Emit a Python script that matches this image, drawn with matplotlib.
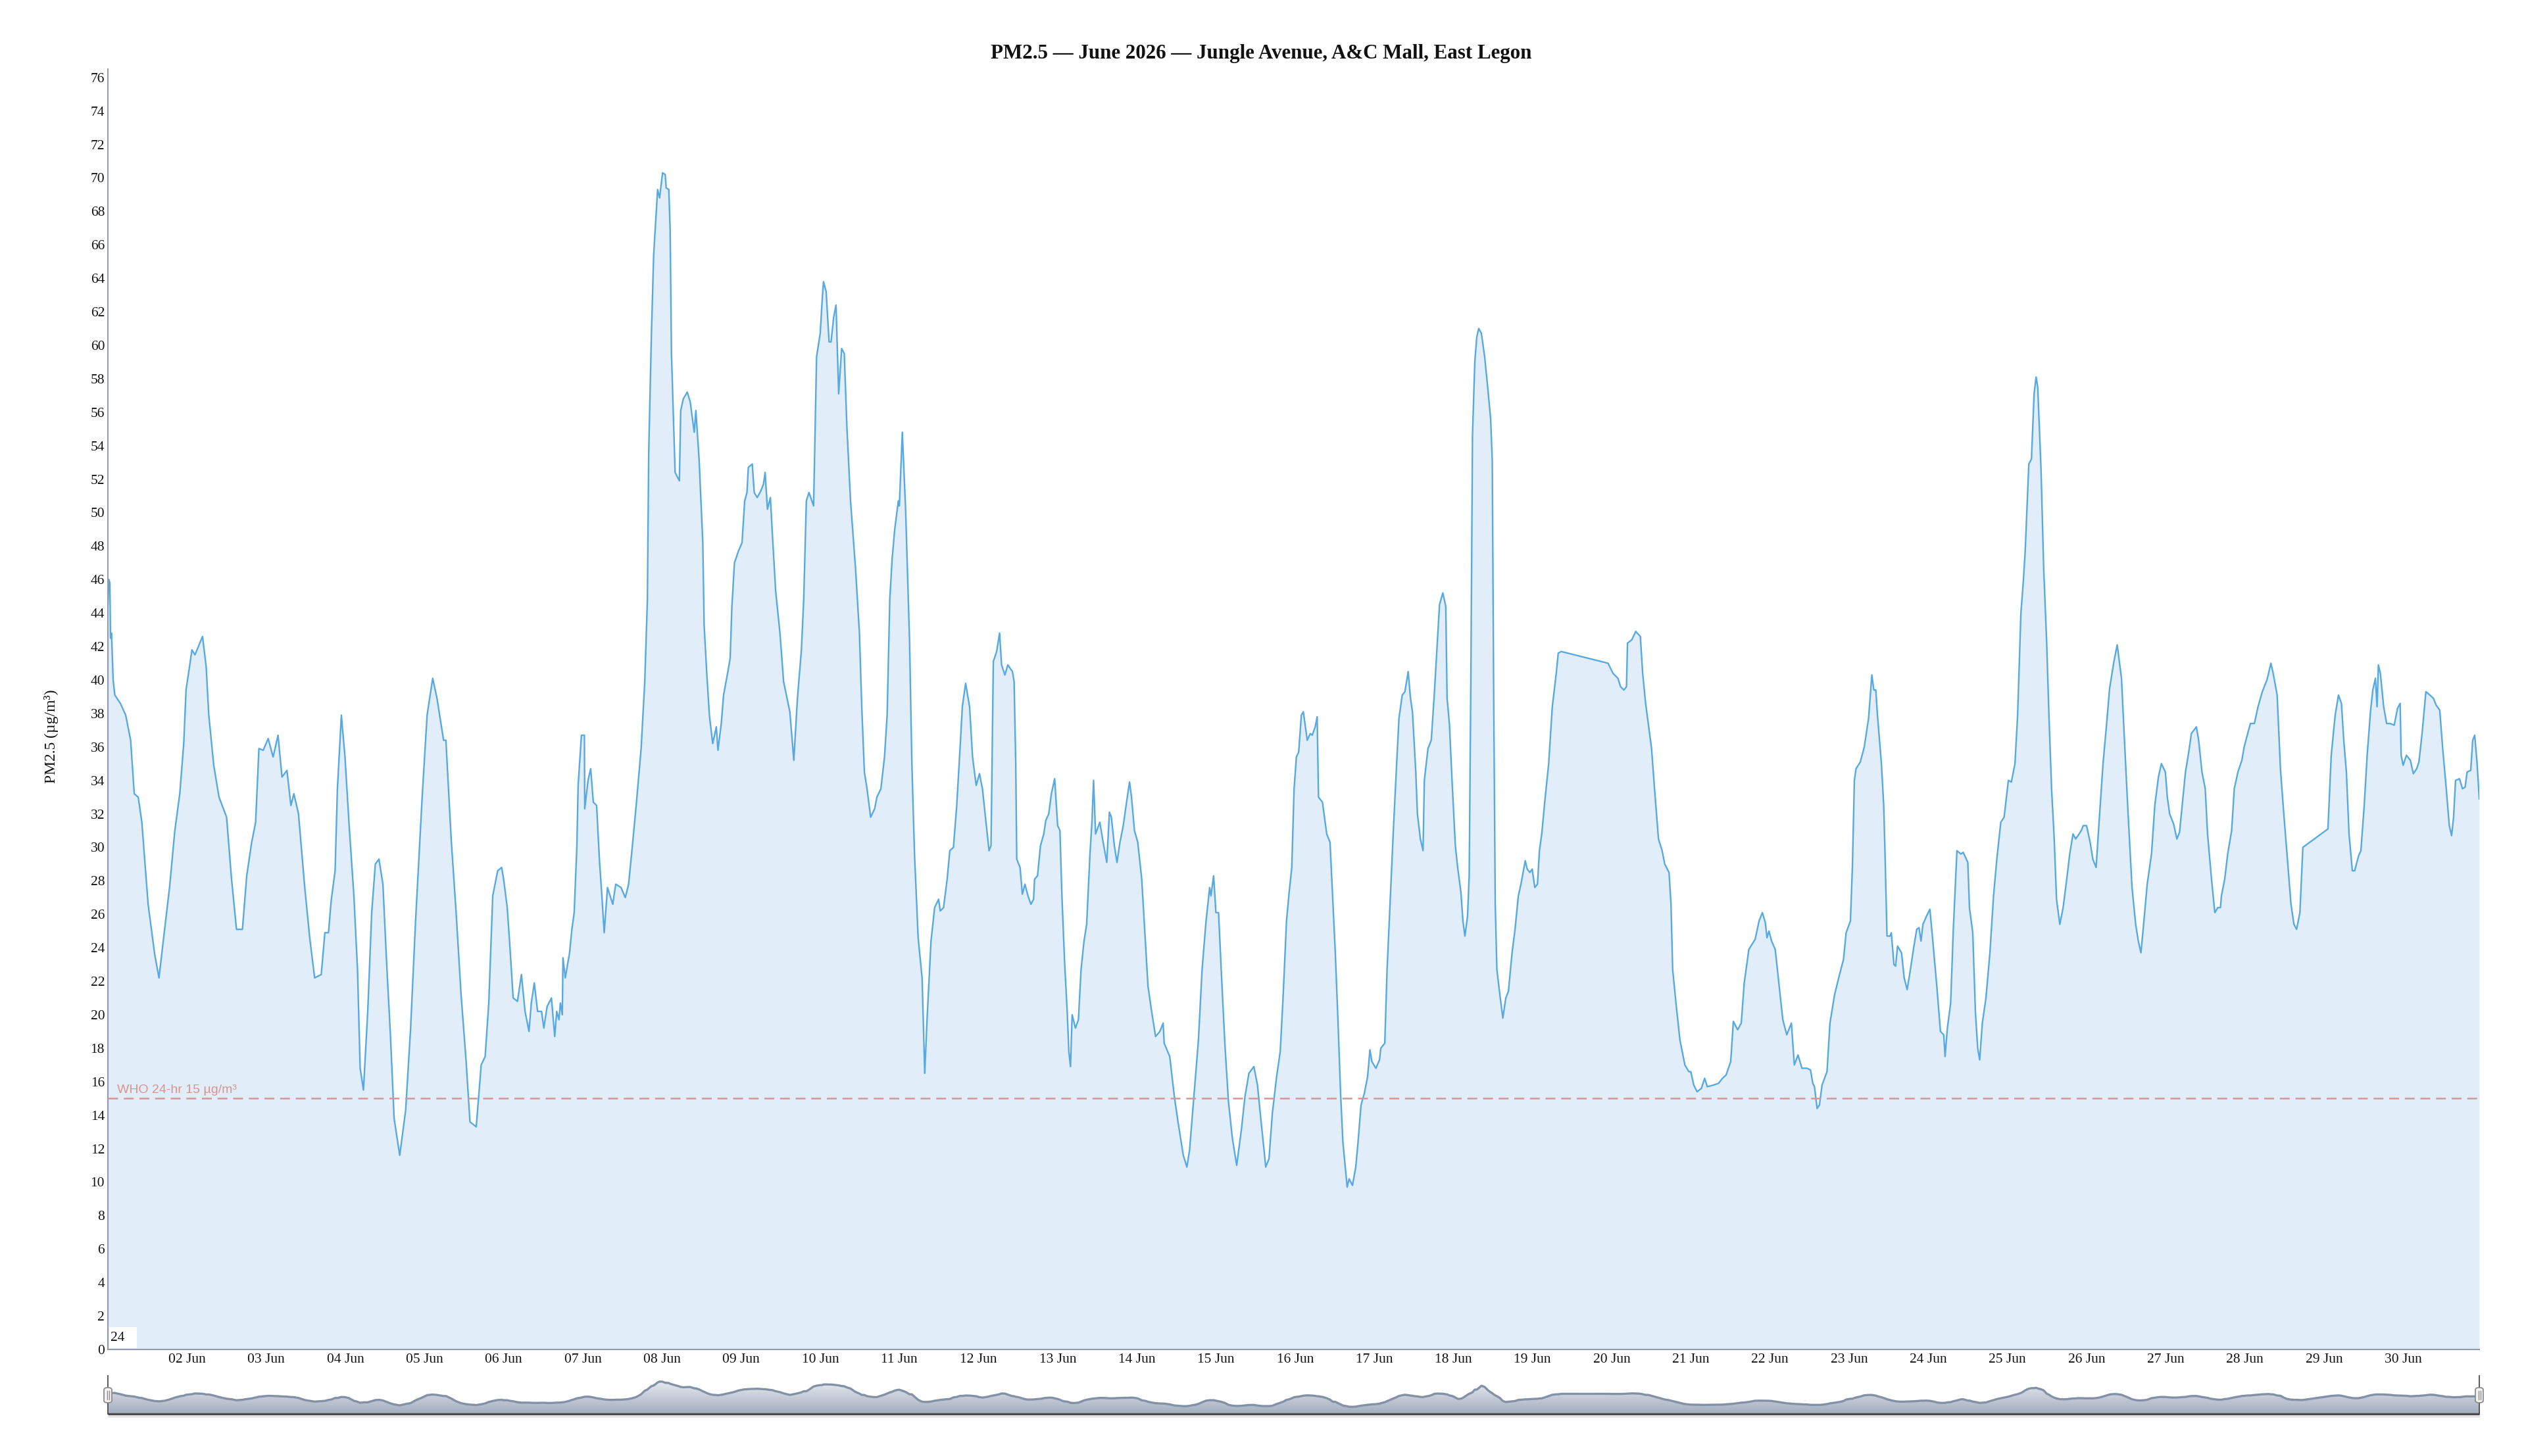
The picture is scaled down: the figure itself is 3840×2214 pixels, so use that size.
import matplotlib
matplotlib.use('Agg')
import matplotlib.pyplot as plt
import matplotlib.dates as mdates
from matplotlib.patches import Rectangle, FancyBboxPatch
from matplotlib.lines import Line2D
from matplotlib.colors import LinearSegmentedColormap
import numpy as np
import pandas as pd

# ── Data: hours since 01 Jun 2026 00:00, PM2.5 in µg/m³ ──
HOURS = [
    0.0, 0.3, 0.6, 0.8, 1.1, 1.6, 2.1, 3.8, 5.4, 6.9, 8.0, 9.2, 10.3, 12.2, 14.2,
    15.5, 17.2, 18.7, 20.3, 21.8, 23.0, 23.7, 25.5, 26.4, 28.7, 29.8, 30.6, 32.1,
    33.7, 36.0, 37.5, 39.0, 40.8, 42.1, 43.6, 44.8, 45.8, 47.1, 48.6, 50.1, 51.6,
    52.8, 54.3, 55.5, 56.4, 57.8, 59.7, 61.2, 62.7, 64.7, 65.8, 66.9, 67.7, 68.9,
    69.6, 70.8, 71.9, 73.1, 74.6, 75.7, 76.5, 77.5, 78.8, 80.0, 81.1, 82.2, 83.4,
    84.5, 85.7, 86.8, 88.5, 90.3, 91.8, 93.3, 95.3, 96.8, 98.5, 99.8, 101.8, 102.5,
    104.1, 105.6, 107.1, 108.6, 109.8, 111.7, 113.2, 114.4, 115.5, 116.7, 118.2, 119.4,
    120.0, 121.1, 121.9, 122.9, 124.2, 125.4, 126.5, 127.7, 128.4, 129.3, 130.3, 131.5,
    132.2, 133.2, 134.5, 135.5, 136.1, 136.8, 137.2, 137.8, 138.0, 138.7, 140.0, 140.7,
    141.4, 142.2, 142.6, 143.6, 144.5, 144.6, 145.6, 146.4, 147.2, 148.2, 149.1, 149.8,
    150.5, 151.5, 153.1, 154.0, 155.6, 156.9, 157.9, 159.0, 160.2, 161.7, 162.8, 163.6,
    164.0, 164.8, 165.5, 166.7, 167.3, 168.2, 169.0, 169.3, 170.1, 170.5, 170.9, 171.5,
    172.0, 173.3, 173.7, 174.5, 175.7, 176.6, 177.8, 178.3, 179.3, 180.4, 180.8, 181.6,
    182.4, 183.4, 184.5, 185.0, 186.0, 186.7, 188.1, 188.7, 189.2, 190.0, 191.2, 192.3,
    193.1, 193.8, 194.2, 195.4, 196.0, 196.9, 198.0, 198.8, 199.3, 200.0, 200.9, 201.5,
    202.5, 203.8, 204.9, 206.8, 208.0, 209.1, 210.3, 211.0, 211.8, 212.6, 214.0, 214.9,
    216.0, 216.6, 217.0, 217.8, 218.7, 219.3, 220.1, 220.8, 221.6, 222.5, 223.3, 224.1,
    225.2, 226.7, 227.9, 228.6, 229.4, 230.2, 231.3, 232.5, 233.2, 234.4, 235.5, 236.3,
    237.1, 237.8, 238.6, 239.7,
    240.0, 240.9, 241.9, 243.1, 243.8, 244.6, 245.7, 246.9, 247.7, 248.4, 249.6, 250.7,
    251.9, 252.4, 253.4, 254.5, 255.3, 256.4, 257.4, 258.4, 259.1, 260.1, 261.3, 262.2,
    263.3, 264.3, 265.2, 266.4, 267.2, 267.8, 268.5, 269.5, 270.4, 271.0, 272.0, 272.9,
    274.3, 274.8, 275.3, 275.6, 276.6, 277.3, 278.1, 279.0, 279.9, 280.7, 281.0, 281.9,
    282.8, 283.8, 284.4, 285.3, 286.1, 287.1, 288.0, 288.7, 289.3, 290.1, 290.9, 291.4,
    291.9, 292.4, 293.4, 294.3, 295.1, 296.0, 296.8, 297.8, 298.4, 298.9, 299.5, 300.8,
    301.8, 302.9, 303.7, 304.3, 305.2, 306.0, 306.9, 307.9, 308.9, 309.8, 310.4, 311.3,
    312.3, 313.5, 314.4, 315.4, 316.5, 317.7, 319.0, 320.0, 320.3, 322.0, 323.4, 324.5,
    326.1, 327.2, 328.0, 328.9, 329.5, 330.7, 331.8, 333.0, 334.1, 334.5, 335.3, 336.0,
    336.8, 337.6, 338.7, 339.8, 341.0, 342.3, 343.7, 344.8, 346.0, 347.5, 348.6, 349.6,
    350.6, 351.1, 352.1, 353.1, 354.4, 355.5, 356.4, 357.4, 358.2, 359.0, 359.7,
    360.4, 361.1, 361.9, 362.5, 363.7, 364.6, 365.2, 366.1, 366.7, 367.1, 368.3, 369.6,
    370.6, 371.5, 372.2, 373.0, 373.8, 374.5, 375.8, 376.4, 377.4, 378.4, 379.1, 380.0,
    381.0, 382.0, 382.7, 383.3, 384.5, 385.6, 386.0, 387.2, 387.9, 388.9, 389.8, 390.8,
    391.5, 392.5, 393.3, 394.3, 395.0, 395.6, 396.6, 397.1, 398.0, 398.8, 399.2, 400.3,
    401.3, 402.2, 403.0, 403.8, 404.8, 405.7, 406.1, 406.8, 407.6, 408.6, 409.3, 410.3,
    410.9, 411.5, 412.3, 412.8, 413.3, 413.8, 414.5, 415.1, 415.7, 416.5, 417.5, 418.5,
    419.3, 419.8, 420.2, 420.7, 421.2, 422.1, 423.0, 423.9, 424.7, 425.8, 426.7, 427.7,
    428.5, 429.8, 430.4, 431.2, 431.9, 432.7, 433.5, 434.1, 434.8, 435.7, 436.9, 438.0,
    439.2, 439.8, 440.7, 454.9, 456.4, 457.9, 458.7, 459.7, 460.5, 460.8, 462.1, 463.3,
    464.7, 465.4, 466.3, 467.1, 468.1, 469.0, 470.2, 471.3, 472.1, 473.4, 474.0, 474.5,
    475.5, 476.7, 478.2, 479.4,
    480.0, 480.9, 481.9, 483.2, 484.2, 485.0, 486.9, 488.4, 489.6, 490.7, 492.1, 492.9,
    494.2, 495.3, 496.2, 497.6, 499.5, 500.7, 501.7, 502.6, 503.1, 503.7, 504.5, 505.6,
    506.8, 507.9, 509.1, 510.5, 511.4, 512.5, 513.7, 515.2, 516.3, 517.0, 517.5, 518.3,
    519.0, 519.8, 521.3, 522.2, 523.6, 525.1, 526.3, 527.1, 528.4, 529.0, 529.6, 530.1,
    531.4, 532.6, 533.9, 534.9, 535.5, 536.1, 536.6, 537.8, 538.5, 538.9, 539.5, 540.4,
    540.8, 541.6, 542.1, 542.7, 543.9, 544.7, 545.6, 546.6, 547.5, 548.5, 549.2, 549.8,
    550.4, 551.5, 552.5, 553.3, 554.6, 555.7, 556.7, 557.1, 557.8, 558.8, 559.6, 560.7,
    561.9, 562.6, 564.0, 564.5, 565.5, 566.3, 567.0, 567.6, 568.4, 569.5, 570.7, 571.8,
    572.8, 574.0, 575.0, 576.3, 577.2, 578.3, 579.1, 580.1, 580.8, 581.4, 582.5, 583.3,
    584.1, 584.7, 585.2, 586.2, 587.0, 587.9, 588.6, 589.4, 590.2, 590.9, 591.9, 592.9,
    594.0, 594.9, 595.9, 596.7, 597.4, 598.4, 599.0,
    600.0, 601.1, 601.9, 602.9, 603.8, 605.0, 606.1, 607.0, 608.3, 609.3, 610.6, 611.5,
    612.6, 613.8, 614.9, 615.7, 616.5, 617.4, 618.4, 619.7, 620.7, 621.8, 622.7, 623.9,
    624.5, 625.2, 626.4, 627.4, 628.2, 629.1, 630.0, 631.0, 631.8, 633.3, 634.0, 635.0,
    636.0, 636.7, 637.9, 638.9, 639.8, 640.6, 640.9, 641.9, 642.8, 644.0, 644.8, 645.9,
    647.1, 647.8, 649.0, 649.7, 650.9, 652.0, 653.3, 654.7, 655.2, 655.9, 656.6, 657.8,
    658.8, 659.7, 660.8, 662.0, 662.9, 663.7, 664.7, 665.6, 673.2, 674.2, 675.4, 676.4,
    677.3, 678.0, 678.8, 679.6, 680.6, 681.3, 682.5, 683.2, 684.2, 685.1, 686.1, 686.8,
    687.6, 688.1, 688.5, 689.1, 690.1, 691.0, 692.0, 693.3, 694.3, 695.1, 695.4, 696.0,
    697.0, 698.2, 699.1, 700.1, 700.8, 701.8, 702.9, 704.1, 705.2, 706.0, 707.1, 708.0,
    709.0, 710.0, 710.7, 711.3, 711.9, 713.1, 714.0, 714.8, 715.4, 716.5, 717.1, 717.7,
    718.4, 719.1,
]

PM25 = [
    44.5, 46.0, 45.8, 42.5, 42.8, 40.0, 39.1, 38.6, 37.9, 36.4, 33.2, 33.0, 31.5, 26.6, 23.6,
    22.2, 25.1, 27.6, 31.0, 33.2, 36.2, 39.4, 41.8, 41.5, 42.6, 40.8, 37.9, 34.9,
    33.0, 31.8, 28.1, 25.1, 25.1, 28.3, 30.3, 31.5, 35.9, 35.8, 36.5, 35.4, 36.7,
    34.2, 34.6, 32.5, 33.2, 32.0, 27.6, 24.6, 22.2, 22.4, 24.9, 24.9, 26.8, 28.6,
    33.5, 37.9, 35.4, 31.5, 27.1, 22.7, 16.8, 15.5, 20.2, 26.1, 29.0, 29.3, 27.8,
    23.2, 18.7, 13.8, 11.6, 14.3, 19.2, 25.6, 33.0, 37.9, 40.1, 38.9, 36.4, 36.4,
    30.5, 26.1, 21.2, 17.3, 13.6, 13.3, 17.0, 17.5, 20.7, 27.1, 28.6, 28.8,
    28.1, 26.4, 24.1, 21.0, 20.8, 22.4, 20.2, 19.0, 20.7, 21.9, 20.2, 20.2,
    19.2, 20.5, 21.0, 18.7, 20.2, 19.7, 20.7, 20.0, 23.4, 22.2, 23.7, 25.1,
    26.1, 30.0, 33.7, 36.7, 36.7, 32.3, 34.0, 34.7, 32.7, 32.5, 29.1, 27.1,
    24.9, 27.6, 26.6, 27.8, 27.6, 27.0, 27.8, 30.0, 32.5, 35.9, 39.9, 44.8,
    53.6, 60.5, 65.4, 69.3, 68.8, 70.3, 70.2, 69.4, 69.3, 66.9, 59.5, 55.6,
    52.4, 51.9, 56.1, 56.8, 57.2, 56.6, 54.8, 56.1, 53.1, 48.2, 43.3, 40.4,
    37.9, 36.2, 37.2, 35.8, 37.4, 39.1, 40.6, 41.3, 44.3, 47.0, 47.7, 48.2,
    50.7, 51.2, 52.7, 52.9, 51.2, 50.9, 51.3, 51.7, 52.4, 50.2, 50.9, 48.7,
    45.3, 42.8, 39.9, 38.1, 35.2, 38.9, 41.8, 44.8, 50.7, 51.2, 50.4, 59.3,
    60.7, 62.7, 63.8, 63.2, 60.2, 60.2, 61.7, 62.4, 57.1, 59.8, 59.5, 55.1,
    50.7, 46.7, 42.8, 38.4, 34.5, 33.5, 31.8, 32.3, 33.0, 33.5, 35.4, 37.9,
    44.8, 47.2, 49.0, 50.7,
    50.4, 54.8, 50.2, 42.3, 35.0, 29.6, 24.6, 22.2, 16.5, 19.7, 24.4, 26.4,
    26.9, 26.2, 26.4, 28.1, 29.8, 30.0, 32.5, 35.9, 38.4, 39.8, 38.4, 35.4,
    33.7, 34.4, 33.5, 31.3, 29.8, 30.1, 41.1, 41.7, 42.8, 40.9, 40.3, 40.9,
    40.5, 39.9, 35.0, 29.3, 28.8, 27.2, 27.8, 27.1, 26.6, 26.9, 28.1, 28.3,
    30.1, 30.8, 31.6, 32.0, 33.2, 34.1, 31.3, 31.0, 27.1, 23.2, 20.2, 17.8,
    16.9, 20.0, 19.2, 19.7, 22.7, 24.4, 25.4, 29.6, 31.5, 34.0, 30.8, 31.5,
    30.3, 29.1, 32.1, 31.8, 30.1, 29.1, 30.3, 31.3, 32.7, 33.9, 33.0, 31.0,
    30.3, 28.1, 25.1, 21.7, 20.2, 18.7, 19.0, 19.5, 18.3, 17.5, 15.1, 13.6,
    11.6, 10.9, 11.9, 14.1, 15.6, 18.5, 22.7, 25.6, 27.6, 27.1, 28.3, 26.1,
    26.1, 22.7, 18.3, 14.8, 12.6, 11.0, 13.1, 15.1, 16.5, 16.9, 15.8, 13.8,
    11.9, 10.9, 11.4, 14.1, 16.3, 17.8, 21.2, 25.6, 27.3, 28.8, 33.5,
    35.4, 35.7, 37.9, 38.1, 36.4, 36.8, 36.7, 37.2, 37.8, 33.0, 32.7, 30.8,
    30.3, 26.6, 23.7, 19.7, 15.3, 12.4, 9.7, 10.2, 9.8, 10.9, 12.4, 14.6,
    15.3, 16.3, 17.9, 17.2, 16.8, 17.3, 18.0, 18.3, 22.7, 27.1, 31.0, 35.0,
    37.7, 39.1, 39.3, 40.5, 38.9, 38.1, 34.5, 32.0, 30.5, 29.8, 34.0, 35.9,
    36.4, 39.1, 41.8, 44.5, 45.2, 44.4, 38.9, 37.4, 34.0, 30.1, 28.8, 27.3,
    25.6, 24.7, 25.9, 28.3, 39.9, 54.6, 59.0, 60.5, 61.0, 60.7, 59.3, 57.3,
    55.6, 53.1, 39.9, 26.6, 22.7, 21.2, 19.8, 21.0, 21.4, 23.7, 25.1, 27.1,
    27.8, 29.2, 28.7, 28.5, 28.7, 27.6, 27.8, 29.8, 30.8, 32.7, 35.0, 38.4,
    40.4, 41.6, 41.7, 41.0, 40.4, 40.1, 39.6, 39.4, 39.6, 42.2, 42.4, 42.9,
    42.6, 40.4, 38.6, 37.4, 35.9, 33.5, 30.5, 29.8, 29.0, 28.5, 26.6, 22.7,
    20.7, 18.5, 17.0, 16.6,
    16.6, 15.8, 15.4, 15.6, 16.2, 15.7, 15.8, 15.9, 16.2, 16.4, 17.2, 19.6,
    19.1, 19.5, 21.9, 23.9, 24.5, 25.6, 26.1, 25.5, 24.6, 25.0, 24.4, 23.9,
    21.7, 19.7, 18.8, 19.5, 17.0, 17.6, 16.8, 16.8, 16.7, 15.9, 15.7, 14.4,
    14.6, 15.8, 16.6, 19.5, 21.2, 22.4, 23.3, 24.9, 25.6, 28.8, 34.0, 34.7,
    35.1, 36.0, 37.7, 40.3, 39.4, 39.4, 37.9, 35.0, 32.5, 29.6, 24.7, 24.7,
    24.9, 23.0, 22.9, 24.1, 23.7, 22.2, 21.5, 22.7, 23.9, 25.1, 25.2, 24.4,
    25.4, 25.9, 26.3, 24.6, 21.7, 19.0, 18.8, 17.5, 19.2, 20.7, 25.1, 29.8,
    29.6, 29.7, 29.1, 26.4, 24.9, 20.2, 18.0, 17.3, 19.5, 21.0, 23.7, 27.1,
    29.3, 31.5, 31.8, 34.0, 33.9, 35.0, 37.9, 44.0, 45.8, 47.7, 52.9, 53.2,
    57.1, 58.1, 57.5, 52.6, 46.7, 42.3, 37.9, 33.5, 30.5, 26.9, 25.4, 26.4,
    28.1, 29.6, 30.8, 30.5, 30.7, 31.0, 31.3,
    31.3, 30.3, 29.3, 28.8, 31.5, 35.0, 37.4, 39.5, 41.1, 42.1, 40.1, 36.4,
    32.0, 27.6, 25.4, 24.4, 23.7, 25.6, 27.8, 29.6, 32.5, 34.2, 35.0, 34.5,
    33.0, 32.0, 31.4, 30.5, 30.9, 32.7, 34.5, 35.7, 36.8, 37.2, 36.4, 34.5,
    33.5, 30.8, 28.1, 26.1, 26.4, 26.4, 27.1, 28.1, 29.6, 31.0, 33.5, 34.5,
    35.2, 36.0, 36.9, 37.4, 37.4, 38.4, 39.3, 40.0, 40.4, 41.0, 40.4, 39.1,
    34.7, 32.3, 29.6, 26.6, 25.4, 25.1, 26.1, 30.0, 31.1, 35.5, 37.9, 39.1,
    38.6, 36.4, 34.5, 30.8, 28.6, 28.6, 29.5, 29.8, 32.5, 35.5, 38.1, 39.4,
    40.1, 38.4, 40.9, 40.4, 38.4, 37.4, 37.4, 37.3, 38.3, 38.6, 35.5, 34.9,
    35.5, 35.2, 34.4, 34.7, 35.1, 36.9, 39.3, 39.1, 38.9, 38.5, 38.2, 35.9,
    33.7, 31.3, 30.7, 31.8, 34.0, 34.1, 33.5, 33.6, 34.5, 34.6, 36.4, 36.7,
    35.1, 32.9,
]

WHO_LIMIT = 15
TITLE = 'PM2.5 \u2014 June 2026 \u2014 Jungle Avenue, A&C Mall, East Legon'
Y_LABEL = 'PM2.5 (\u00b5g/m\u00b3)'
WHO_LABEL = 'WHO 24-hr 15 \u00b5g/m\u00b3'
Y_TICKS = list(range(0, 77, 2))

# ── Colours ──────────────────────────────────────────────────────────────────
C_LINE = '#58a9e1'
C_FILL = '#e1eefa'
C_AXIS = '#8f9cb0'
C_WHO = '#d8958e'
C_NAV_LINE = '#8391a6'
C_NAV_DARK = '#4b4b4b'
SERIF = ['Liberation Serif', 'DejaVu Serif']
SANS = ['Liberation Sans', 'DejaVu Sans']

plt.rcParams['font.family'] = SERIF

n = min(len(HOURS), len(PM25))
times = pd.Timestamp('2026-06-01') + pd.to_timedelta(HOURS[:n], unit='h')
values = np.array(PM25[:n])
series = pd.Series(values, index=times)
nav_series = series.rolling('6h', center=True).mean()
x = mdates.date2num(times.to_pydatetime())

W, H = 3840, 2214
fig = plt.figure(figsize=(W / 100, H / 100), dpi=100)
fig.patch.set_facecolor('white')

L, R = 164, 3769
ax = fig.add_axes([L / W, (H - 2052) / H, (R - L) / W, (2052 - 105) / H])

ax.fill_between(x, values, 0, color=C_FILL, lw=0, zorder=1)
ax.plot(x, values, color=C_LINE, lw=1.7, zorder=2)
ax.axhline(WHO_LIMIT, color=C_WHO, lw=1.8, dashes=(6, 3.5), zorder=3)
ax.annotate(WHO_LABEL, xy=(0, WHO_LIMIT), xycoords=('axes fraction', 'data'),
            xytext=(10, 3), textcoords='offset points', ha='left', va='bottom',
            fontsize=14, color=C_WHO, family=SANS, zorder=4)

ax.set_xlim(x[0], x[-1])
ax.set_ylim(0, 76.5)
ax.set_yticks(Y_TICKS)
day_ticks = pd.date_range('2026-06-02', '2026-06-30', freq='D')
ax.set_xticks(mdates.date2num(day_ticks.to_pydatetime()))
ax.xaxis.set_major_formatter(mdates.DateFormatter('%d Jun'))
ax.tick_params(axis='y', length=0, pad=3.5, labelsize=15.5, labelcolor='#111111')
ax.tick_params(axis='x', length=0, pad=4.5, labelsize=15.5, labelcolor='#111111')
for s in ('top', 'right'):
    ax.spines[s].set_visible(False)
for s in ('left', 'bottom'):
    ax.spines[s].set_color(C_AXIS)
    ax.spines[s].set_linewidth(1.5)
ax.set_facecolor('white')

# small white box with "24" at the bottom-left corner
ax.add_patch(Rectangle((0.0005, 0.001), 0.0118, 0.0165, transform=ax.transAxes,
                       facecolor='white', edgecolor='none', zorder=5))
ax.text(0.0012, 0.0092, '24', transform=ax.transAxes, ha='left', va='center',
        fontsize=15.5, color='#111111', zorder=6)

fig.text(1917 / W, 1 - 81 / H, TITLE, ha='center', va='center',
         fontsize=22.3, fontweight='bold', color='#111111')
fig.text(78 / W, 1 - 1120 / H, Y_LABEL, ha='center', va='center',
         rotation=90, fontsize=17, color='#111111')

# ── Navigator ────────────────────────────────────────────────────────────────
NAV_LO, NAV_HI = -4.5, 78
nav = fig.add_axes([L / W, (H - 2150) / H, (R - L) / W, 56 / H])
nav.set_xlim(x[0], x[-1])
nav.set_ylim(NAV_LO, NAV_HI)
nav.axis('off')
poly = nav.fill_between(x, nav_series.values, NAV_LO, color='none', lw=0)
grad_cmap = LinearSegmentedColormap.from_list('nav', ['#a3adbf', '#e6e9ef'])
grad = np.linspace(0, 1, 256).reshape(-1, 1)
im = nav.imshow(grad, extent=[x[0], x[-1], NAV_LO, np.nanmax(nav_series.values)],
                origin='lower', aspect='auto', cmap=grad_cmap, zorder=1)
im.set_clip_path(poly.get_paths()[0], transform=nav.transData)
nav.plot(x, nav_series.values, color=C_NAV_LINE, lw=2.4, zorder=2)
nav.plot([0, 1], [0, 0], transform=nav.transAxes, color=C_NAV_DARK, lw=2.4,
         clip_on=False, zorder=3, solid_capstyle='butt')
nav.plot([0, 1], [-0.07, -0.07], transform=nav.transAxes, color='#d0d0d0', lw=1.0,
         clip_on=False, zorder=3)
for xe in (0, 1):
    nav.plot([xe, xe], [0, 1.04], transform=nav.transAxes, color=C_NAV_DARK,
             lw=1.3, clip_on=False, zorder=3)

# navigator handles
for px in (L, R):
    hx, hw, hy, hh = px - 6, 12, 2110, 23
    fig.add_artist(FancyBboxPatch((hx / W, (H - hy - hh) / H), hw / W, hh / H,
                                  boxstyle='round,pad=0,rounding_size=0.0015',
                                  transform=fig.transFigure, facecolor='#f2f2f2',
                                  edgecolor='#8c8c8c', lw=1.3, zorder=10))
    for dx in (-1.5, 1.5):
        fig.add_artist(Line2D([(px + dx) / W] * 2, [(H - 2128) / H, (H - 2115) / H],
                              transform=fig.transFigure, color='#8c8c8c', lw=1.0,
                              zorder=11))

fig.savefig('out.png', dpi=100, facecolor='white')
